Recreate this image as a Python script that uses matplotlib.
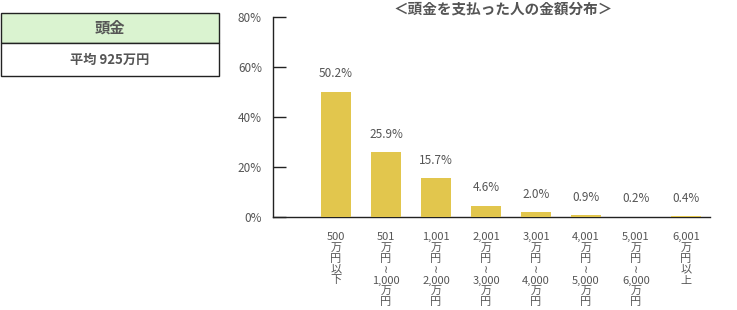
import matplotlib
matplotlib.use("Agg")
import matplotlib.pyplot as plt
from matplotlib.patches import Rectangle

plt.rcParams['font.family'] = ['Noto Sans CJK JP', 'DejaVu Sans']

categories = [
    "500\n万\n円\n以\n下",
    "501\n万\n円\n≀\n1,000\n万\n円",
    "1,001\n万\n円\n≀\n2,000\n万\n円",
    "2,001\n万\n円\n≀\n3,000\n万\n円",
    "3,001\n万\n円\n≀\n4,000\n万\n円",
    "4,001\n万\n円\n≀\n5,000\n万\n円",
    "5,001\n万\n円\n≀\n6,000\n万\n円",
    "6,001\n万\n円\n以\n上",
]
values = [50.2, 25.9, 15.7, 4.6, 2.0, 0.9, 0.2, 0.4]
value_labels = ["50.2%", "25.9%", "15.7%", "4.6%", "2.0%", "0.9%", "0.2%", "0.4%"]
yticks = [0, 20, 40, 60, 80]
ytick_labels = ["0%", "20%", "40%", "60%", "80%"]
title = "＜頭金を支払った人の金額分布＞"
box_header = "頭金"
box_body = "平均 925万円"

W, H = 737, 310
fig = plt.figure(figsize=(W / 100, H / 100), dpi=100)

ax = fig.add_axes([273 / W, 93 / H, (710 - 273) / W, 200 / H])
x = list(range(len(values)))
ax.bar(x, values, width=0.6, color="#E2C64D", zorder=3)
ax.set_xlim(-1.26, 7.48)
ax.set_ylim(0, 80)
for spine in ["top", "right"]:
    ax.spines[spine].set_visible(False)
for spine in ["left", "bottom"]:
    ax.spines[spine].set_color("#222222")
    ax.spines[spine].set_linewidth(1.0)
ax.set_yticks(yticks)
ax.set_yticklabels(ytick_labels, fontsize=8.5, color="#555555")
ax.tick_params(axis="y", direction="in", length=9, width=1.0, color="#222222", pad=8)
ax.set_xticks(x)
ax.set_xticklabels(categories, fontsize=8, color="#555555", linespacing=1.1,
                   va="top")
ax.tick_params(axis="x", length=0, pad=11)

for xi, v, lab in zip(x, values, value_labels):
    ax.annotate(lab, (xi, v), xytext=(0, 8), textcoords="offset points",
                ha="center", va="bottom", fontsize=8.5, color="#555555")

fig.text(503 / W, 1 - 8 / H, title, ha="center", va="center", fontsize=10.5,
         color="#555555", fontweight="bold")

# info box
bx = fig.add_axes([0, 0, 1, 1], zorder=-1)
bx.set_xlim(0, W)
bx.set_ylim(H, 0)
bx.axis("off")
bx.add_patch(Rectangle((0.5, 13), 218.5, 30, facecolor="#DAF3D0", edgecolor="#222222", lw=1))
bx.add_patch(Rectangle((0.5, 43), 218.5, 32.5, facecolor="white", edgecolor="#222222", lw=1))
bx.text(110, 28, box_header, ha="center", va="center", fontsize=11,
        color="#555555", fontweight="bold")
bx.text(110, 59.5, box_body, ha="center", va="center", fontsize=9.5,
        color="#555555", fontweight="bold")

fig.savefig("out.png", dpi=100)
